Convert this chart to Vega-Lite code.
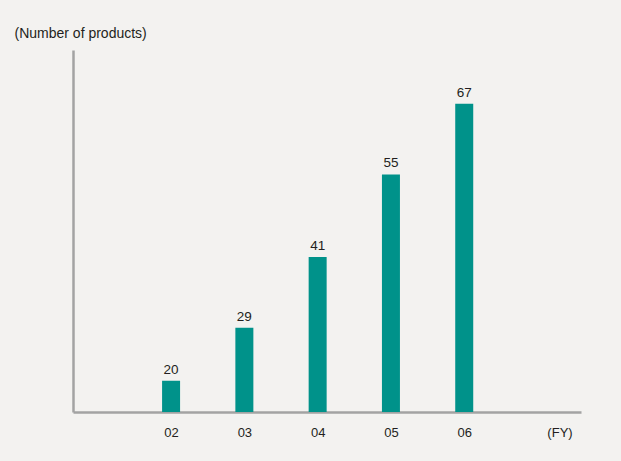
{
  "$schema": "https://vega.github.io/schema/vega-lite/v6.json",
  "autosize": "none",
  "width": 508,
  "height": 362,
  "padding": {"left": 73, "top": 50, "right": 40, "bottom": 49},
  "background": "#f3f2f0",
  "config": {
    "view": {"stroke": null},
    "font": "Liberation Sans"
  },
  "data": {
    "values": [
      {"fy": 2, "products": 20},
      {"fy": 3, "products": 29},
      {"fy": 4, "products": 41},
      {"fy": 5, "products": 55},
      {"fy": 6, "products": 67}
    ]
  },
  "encoding": {
    "x": {
      "field": "fy",
      "type": "quantitative",
      "scale": {"domain": [0.73, 7.525], "nice": false, "zero": false},
      "axis": {
        "title": null,
        "values": [2, 3, 4, 5, 6, 7.3],
        "labelExpr": "datum.value > 7 ? '(FY)' : '0' + datum.value",
        "ticks": false,
        "grid": false,
        "domainColor": "#a3a3a3",
        "domainWidth": 2.5,
        "labelFontSize": 13,
        "labelColor": "#231f20",
        "labelPadding": 14,
        "labelFlush": false
      }
    },
    "y": {
      "field": "products",
      "type": "quantitative",
      "scale": {"domain": [14.7, 76.1], "nice": false, "zero": false, "clamp": true},
      "axis": {
        "title": "(Number of products)",
        "titleAngle": 0,
        "titleX": -59,
        "titleY": -13,
        "titleAlign": "left",
        "titleBaseline": "alphabetic",
        "titleFontSize": 14,
        "titleFontWeight": "normal",
        "titleColor": "#231f20",
        "labels": false,
        "ticks": false,
        "grid": false,
        "domainColor": "#a3a3a3",
        "domainWidth": 2.5
      }
    }
  },
  "layer": [
    {"mark": {"type": "bar", "size": 18, "color": "#00928a"}},
    {
      "mark": {"type": "text", "dy": -7, "baseline": "alphabetic", "fontSize": 13.5, "color": "#231f20"},
      "encoding": {"text": {"field": "products", "type": "quantitative"}}
    }
  ]
}
